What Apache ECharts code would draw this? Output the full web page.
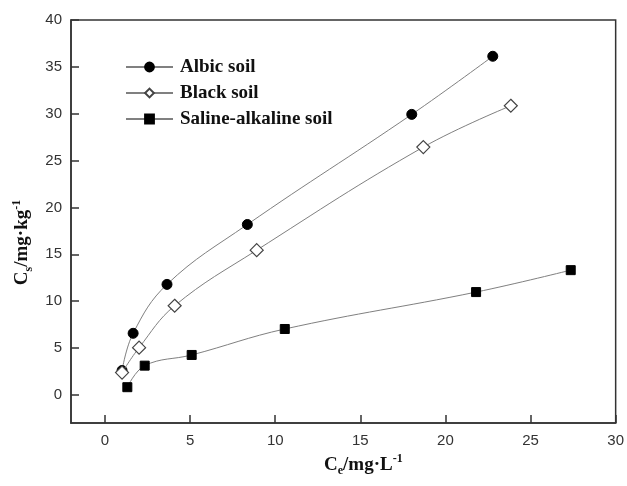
<!DOCTYPE html>
<html>
<head>
<meta charset="utf-8">
<script src="https://cdn.jsdelivr.net/npm/echarts@6/dist/echarts.min.js"></script>
<style>html,body{margin:0;padding:0;background:#fff;}#c{width:627px;height:486px;}</style>
</head>
<body>
<div id="c"></div>
<script>
var seriesNames = ['Albic soil', 'Black soil', 'Saline-alkaline soil'];
var albicX = [1.0, 1.65, 3.64, 8.36, 18.02, 22.78];
var albicY = [2.6, 6.57, 11.79, 18.18, 29.93, 36.13];
var blackX = [1.0, 2.0, 4.09, 8.91, 18.7, 23.84];
var blackY = [2.38, 5.04, 9.51, 15.44, 26.44, 30.85];
var salineX = [1.31, 2.33, 5.09, 10.56, 21.8, 27.36];
var salineY = [0.82, 3.12, 4.26, 7.03, 10.97, 13.31];
var xTicks = [0, 5, 10, 15, 20, 25, 30];
var yTicks = [0, 5, 10, 15, 20, 25, 30, 35, 40];

function pairs(xs, ys) { return xs.map(function (x, i) { return [x, ys[i]]; }); }

var chart = echarts.init(document.getElementById('c'), null, {renderer: 'canvas'});
var serif = '"Liberation Serif", "Times New Roman", serif';
var sans = '"Liberation Sans", Arial, sans-serif';
var lineStyle = {color: '#808080', width: 1};
var nameRich = {
  b: {fontFamily: serif, fontWeight: 'bold', fontSize: 19, color: '#111', lineHeight: 24},
  s: {fontFamily: serif, fontWeight: 'bold', fontSize: 12, color: '#111', verticalAlign: 'bottom', lineHeight: 24, padding: [12, 0, 0, 0]},
  p: {fontFamily: serif, fontWeight: 'bold', fontSize: 12, color: '#111', verticalAlign: 'top', lineHeight: 24, padding: [0, 0, 10, 0]}
};
chart.setOption({
  animation: false,
  backgroundColor: '#fff',
  grid: {left: 71, top: 20, right: 10, bottom: 63, show: true, borderColor: '#333', borderWidth: 1.5, backgroundColor: 'transparent'},
  legend: {
    orient: 'vertical', left: 120, top: 52, itemWidth: 47, itemHeight: 11, itemGap: 6,
    data: seriesNames,
    textStyle: {fontFamily: serif, fontWeight: 'bold', fontSize: 19, lineHeight: 20, color: '#111', padding: [0, 0, 0, 2]}
  },
  xAxis: {
    type: 'value', min: -2, max: 30, interval: 5,
    axisLine: {show: true, onZero: false, lineStyle: {color: '#333', width: 1.5}},
    axisTick: {show: true, inside: true, length: 8, lineStyle: {color: '#333', width: 1.5},
      customValues: xTicks},
    axisLabel: {show: true, fontFamily: sans, fontSize: 15, color: '#333', margin: 10,
      customValues: xTicks},
    splitLine: {show: false},
    name: '{b|C}{s|e}{b|/mg·L}{p|-1}', nameLocation: 'middle', nameGap: 30,
    nameTextStyle: {padding: [0, 0, 0, 40], rich: nameRich}
  },
  yAxis: {
    type: 'value', min: -3, max: 40, interval: 5,
    axisLine: {show: true, onZero: false, lineStyle: {color: '#333', width: 1.5}},
    axisTick: {show: true, inside: true, length: 8, lineStyle: {color: '#333', width: 1.5},
      customValues: yTicks},
    axisLabel: {show: true, fontFamily: sans, fontSize: 15, color: '#333', margin: 9,
      customValues: yTicks},
    splitLine: {show: false},
    name: '{b|C}{s|s}{b|/mg·kg}{p|-1}', nameLocation: 'middle', nameGap: 36, nameRotate: 90,
    nameTextStyle: {padding: [0, 42, 0, 0], rich: nameRich}
  },
  series: [
    {name: seriesNames[0], type: 'line', smooth: 0.4, data: pairs(albicX, albicY),
      symbol: 'circle', symbolSize: 10, lineStyle: lineStyle,
      itemStyle: {color: '#000', borderColor: '#000', borderWidth: 1}, z: 3},
    {name: seriesNames[1], type: 'line', smooth: 0.4, data: pairs(blackX, blackY),
      symbol: 'diamond', symbolSize: 13, lineStyle: lineStyle,
      itemStyle: {color: '#fff', borderColor: '#444', borderWidth: 1.2}, z: 4},
    {name: seriesNames[2], type: 'line', smooth: 0.4, data: pairs(salineX, salineY),
      symbol: 'rect', symbolSize: 9, lineStyle: lineStyle,
      itemStyle: {color: '#000', borderColor: '#000', borderWidth: 1}, z: 3}
  ]
});
</script>
</body>
</html>
